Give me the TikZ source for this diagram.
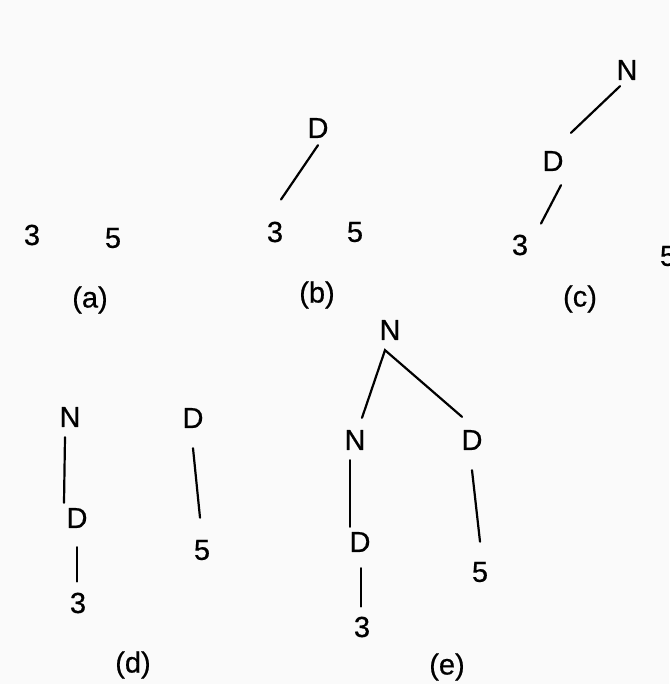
\documentclass[tikz,border=0pt]{standalone}
\usepackage{fontspec}
\setmainfont{Liberation Sans}
\newfontfamily\scanfont{Liberation Sans}[FakeBold=0.6]
\begin{document}
\begin{tikzpicture}[x=1pt,y=-1pt,
  lbl/.style={inner sep=0pt,font=\scanfont\fontsize{29}{32}\selectfont},
  edge/.style={line width=2.2pt,line cap=round}]
  \fill[black!2] (0,0) rectangle (669,684);
  \useasboundingbox (0,0) rectangle (669,684);

  % (a)
  \node[lbl] (a3) at (32,235) {3};
  \node[lbl] (a5) at (113,238) {5};
  \node[lbl] (acap) at (90,300) {(a)};

  % (b)
  \node[lbl] (bD) at (318,128) {D};
  \node[lbl] (b3) at (275,232) {3};
  \node[lbl] (b5) at (355,232) {5};
  \node[lbl] (bcap) at (317,295) {(b)};
  \draw[edge] ([yshift=-7pt]bD.south) -- ([xshift=6pt,yshift=22pt]b3.north);

  % (c)
  \node[lbl] (cN) at (627,70) {N};
  \node[lbl] (cD) at (553,161) {D};
  \node[lbl] (c3) at (520,245) {3};
  \node[lbl] (c5) at (668,256) {5};
  \node[lbl] (ccap) at (580,299) {(c)};
  \draw[edge] ([xshift=-7pt,yshift=-6pt]cN.south) -- ([xshift=18pt,yshift=18pt]cD.north);
  \draw[edge] ([xshift=8pt,yshift=-14pt]cD.south) -- ([xshift=21pt,yshift=11pt]c3.north);

  % (d)
  \node[lbl] (dN) at (70,417) {N};
  \node[lbl] (dD) at (77,518) {D};
  \node[lbl] (d3) at (78,603) {3};
  \node[lbl] (dD2) at (193,418) {D};
  \node[lbl] (d5) at (202,550) {5};
  \node[lbl] (dcap) at (133,665) {(d)};
  \draw[edge] ([xshift=-5pt,yshift=-10pt]dN.south) -- ([xshift=-13pt,yshift=5pt]dD.north);
  \draw[edge] ([yshift=-19pt]dD.south) -- ([xshift=-1pt,yshift=11pt]d3.north);
  \draw[edge] ([yshift=-20pt]dD2.south) -- ([xshift=-2pt,yshift=22pt]d5.north);

  % (e)
  \node[lbl] (eN) at (390,330) {N};
  \node[lbl] (eN2) at (355,440) {N};
  \node[lbl] (eD) at (472,440) {D};
  \node[lbl] (eD2) at (360,542) {D};
  \node[lbl] (e3) at (362,627) {3};
  \node[lbl] (e5) at (480,572) {5};
  \node[lbl] (ecap) at (447,667) {(e)};
  \draw[edge] ([xshift=7pt,yshift=12pt]eN2.north) -- ([xshift=-5pt,yshift=-10pt]eN.south)
    -- ([xshift=-10pt,yshift=13pt]eD.north);
  \draw[edge] ([xshift=-5pt,yshift=-10pt]eN2.south) -- ([xshift=-10pt,yshift=5pt]eD2.north);
  \draw[edge] ([xshift=1pt,yshift=-16pt]eD2.south) -- ([xshift=-1pt,yshift=10pt]e3.north);
  \draw[edge] ([yshift=-20pt]eD.south) -- ([yshift=20pt]e5.north);
\end{tikzpicture}
\end{document}
